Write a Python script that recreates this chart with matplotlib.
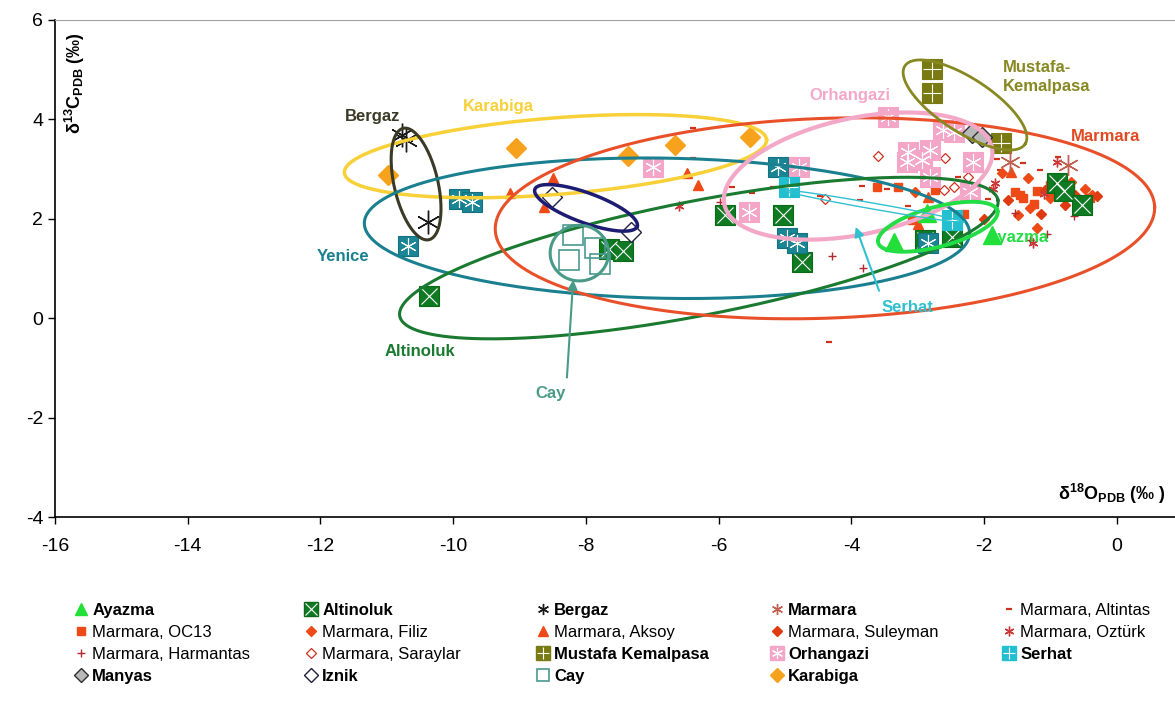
import numpy as np
import matplotlib
matplotlib.use("Agg")
import matplotlib.pyplot as plt
from matplotlib.lines import Line2D
from matplotlib import font_manager

# ---------------- data ----------------
ayazma_x = [-3.36, -2.86, -1.88]
ayazma_y = [1.53, 2.11, 1.67]

altinoluk_x = [-10.36, -7.65, -7.45, -5.90, -5.03, -4.74, -2.89, -2.48, -0.90, -0.80, -0.53]
altinoluk_y = [0.44, 1.39, 1.35, 2.07, 2.07, 1.13, 1.57, 1.63, 2.72, 2.55, 2.28]

bergaz_x = [-10.77, -10.71, -10.38]
bergaz_y = [3.69, 3.59, 1.93]

marmara_x = [-1.61, -0.74]
marmara_y = [3.14, 3.08]

altintas_x = [-6.39, -6.39, -5.80, -5.50, -5.18, -4.48, -3.84, -3.87, -3.46, -3.15, -4.34, -1.81, -1.76, -1.42, -1.16, -0.89, -2.40, -1.95]
altintas_y = [3.83, 3.22, 2.64, 2.52, 2.64, 2.45, 2.66, 2.38, 2.60, 2.26, -0.48, 3.20, 2.98, 3.12, 2.98, 3.24, 2.85, 2.40]

oc13_x = [-3.61, -3.30, -3.09, -2.74, -1.54, -1.46, -1.42, -1.01, -0.86, -0.71, -0.41, -1.20, -0.95, -0.60, -2.30, -1.25]
oc13_y = [2.64, 2.64, 1.97, 2.58, 2.54, 2.48, 2.42, 2.68, 2.58, 2.64, 2.42, 2.55, 2.45, 2.35, 2.10, 2.30]

filiz_x = [-1.34, -1.73, -1.31, -1.49, -1.20, -1.01, -0.38, -3.04, -0.70, -0.48]
filiz_y = [2.82, 2.92, 2.22, 2.07, 1.81, 2.42, 2.48, 2.54, 2.75, 2.60]

aksoy_x = [-9.14, -8.49, -8.64, -6.48, -6.31, -2.85, -1.60, -1.00, -3.00]
aksoy_y = [2.52, 2.82, 2.24, 2.92, 2.68, 2.44, 2.95, 2.60, 1.90]

suleyman_x = [-1.08, -0.93, -0.63, -0.78, -1.64, -2.00, -1.15, -0.30]
suleyman_y = [2.58, 2.82, 2.48, 2.28, 2.38, 2.00, 2.10, 2.45]

ozturk_x = [-6.60, -1.84, -0.90, -1.27, -1.87, -1.10]
ozturk_y = [2.26, 2.72, 3.14, 1.51, 2.60, 2.50]

harmantas_x = [-4.29, -3.83, -5.98, -1.54, -1.31, -1.05, -0.65]
harmantas_y = [1.25, 1.01, 2.34, 2.11, 1.57, 1.70, 2.05]

saraylar_x = [-3.60, -4.40, -2.59, -2.61, -2.45, -2.25]
saraylar_y = [3.26, 2.40, 3.22, 2.58, 2.64, 2.85]

mustafa_x = [-2.79, -2.79, -1.75]
mustafa_y = [5.02, 4.53, 3.52]

orhangazi_x = [-6.99, -5.54, -4.79, -3.45, -3.15, -2.82, -2.82, -2.17, -2.21, -2.62, -3.16, -2.94, -2.45]
orhangazi_y = [3.04, 2.13, 3.04, 4.05, 3.34, 3.38, 2.84, 3.14, 2.54, 3.79, 3.14, 3.18, 3.75]

serhat_x = [-4.94, -2.48]
serhat_y = [2.64, 1.97]

manyas_x = [-2.18, -2.03]
manyas_y = [3.73, 3.65]

iznik_x = [-8.51, -7.32]
iznik_y = [2.44, 1.73]

cay_x = [-8.19, -8.25, -7.86, -7.79]
cay_y = [1.67, 1.17, 1.41, 1.09]

karabiga_x = [-10.99, -9.05, -7.36, -6.66, -5.53]
karabiga_y = [2.88, 3.42, 3.26, 3.48, 3.65]

yenice_x = [-10.68, -9.92, -9.71, -5.11, -4.97, -4.82, -2.85]
yenice_y = [1.45, 2.40, 2.34, 3.04, 1.61, 1.51, 1.51]

# ellipses: name, centre x, centre y, semi-axis x (x units), semi-axis y (y units), angle (deg on screen)
ell_names = ["Karabiga", "Bergaz", "Yenice", "Altinoluk", "Marmara", "Iznik", "Cay", "Orhangazi", "Mustafa", "Ayazma", "Serhat"]
ell_cx = [-8.46, -10.56, -6.78, -6.30, -4.40, -8.00, -8.10, -3.90, -2.29, -2.70, -3.65]
ell_cy = [3.26, 2.70, 1.81, 1.21, 2.01, 2.22, 1.31, 2.86, 4.29, 1.84, 2.25]
ell_rx = [3.19, 0.33, 4.56, 4.59, 4.97, 0.82, 0.44, 2.06, 1.08, 0.93, 1.37]
ell_ry = [0.77, 1.15, 1.41, 1.15, 2.01, 0.30, 0.56, 1.17, 0.54, 0.40, 0.06]
ell_ang = [4.5, 13, -1, 11, 2, -20, 0, 12, -33, 15, -10]

# ---------------- fonts ----------------
def has_font(name):
    try:
        font_manager.findfont(name, fallback_to_default=False)
        return True
    except Exception:
        return False

narrow = "Liberation Sans Narrow" if has_font("Liberation Sans Narrow") else "Liberation Sans"
plt.rcParams['font.family'] = [narrow, 'DejaVu Sans']
plt.rcParams['mathtext.fontset'] = 'custom'
plt.rcParams['mathtext.rm'] = narrow
plt.rcParams['mathtext.bf'] = narrow + ':bold'
plt.rcParams['axes.unicode_minus'] = False

W, H = 1175, 706
fig = plt.figure(figsize=(W / 100, H / 100), dpi=100)
ax = fig.add_axes([55 / W, 1 - 517 / H, 1120 / W, 497 / H])
ax.set_xlim(-16, 0.874)
ax.set_ylim(-4, 6)
ax.set_xticks(np.arange(-16, 1, 2))
ax.set_yticks(np.arange(-4, 7, 2))
ax.tick_params(direction='out', length=5, width=1, labelsize=14, colors='black')
ax.tick_params(axis='x', pad=10)
ax.spines['right'].set_visible(False)
ax.spines['top'].set_color('#a0a0a0')
ax.spines['left'].set_linewidth(1.2)
ax.spines['bottom'].set_linewidth(1.2)

# ---------------- styles ----------------
C_ALT = '#0e7a22'
C_ORH = '#f4a6c8'
C_YEN = '#1a8595'
C_MUS = '#7a7a12'
C_SER = '#22bfd0'
RED = '#ee4a18'

def comp(xs, ys, color, sym, ms=15, sym_ms=12, z=3, edge=None):
    a, = ax.plot(xs, ys, ls='none', marker='s', ms=ms, mfc=color, mec=edge or color, mew=0.8, zorder=z)
    b, = ax.plot(xs, ys, ls='none', marker=sym, ms=sym_ms, mec='white', mfc='white', mew=0.8, zorder=z)
    return (a, b)

handles = {}
handles['Marmara, Altintas'], = ax.plot(altintas_x, altintas_y, ls='none', marker='_', ms=5, mew=1.6, color='#cc3318', zorder=2)
handles['Marmara, OC13'], = ax.plot(oc13_x, oc13_y, ls='none', marker='s', ms=6, color=RED, zorder=2)
handles['Marmara, Filiz'], = ax.plot(filiz_x, filiz_y, ls='none', marker='D', ms=5, color=RED, zorder=2)
handles['Marmara, Aksoy'], = ax.plot(aksoy_x, aksoy_y, ls='none', marker='^', ms=7, color=RED, zorder=2)
handles['Marmara, Suleyman'], = ax.plot(suleyman_x, suleyman_y, ls='none', marker='D', ms=5, color='#e03a10', zorder=2)
handles['Marmara, Oztürk'], = ax.plot(ozturk_x, ozturk_y, ls='none', marker=(6, 2, 0), ms=7, mew=1, color='#cc3838', zorder=2)
handles['Marmara, Harmantas'], = ax.plot(harmantas_x, harmantas_y, ls='none', marker='+', ms=6, mew=1, color='#b02a30', zorder=2)
handles['Marmara, Saraylar'], = ax.plot(saraylar_x, saraylar_y, ls='none', marker='D', ms=5, mfc='white', mec='#cc3322', mew=0.9, zorder=2)

handles['Altinoluk'] = comp(altinoluk_x, altinoluk_y, C_ALT, 'x', edge='#0a6a18')
yen = comp(yenice_x, yenice_y, C_YEN, (6, 2, 0), edge='#157080')
handles['Orhangazi'] = comp(orhangazi_x, orhangazi_y, C_ORH, (6, 2, 0), edge=C_ORH)
handles['Mustafa Kemalpasa'] = comp(mustafa_x, mustafa_y, C_MUS, '+', sym_ms=13)
handles['Serhat'] = comp(serhat_x, serhat_y, C_SER, '+', sym_ms=13)

handles['Ayazma'], = ax.plot(ayazma_x, ayazma_y, ls='none', marker='^', ms=13, color='#22e038', zorder=3)
handles['Bergaz'], = ax.plot(bergaz_x, bergaz_y, ls='none', marker=(6, 2, 0), ms=17, mew=1, color='#1a1a1a', zorder=3)
handles['Marmara'], = ax.plot(marmara_x, marmara_y, ls='none', marker=(6, 2, 0), ms=15, mew=1, color='#c06050', zorder=3)
handles['Manyas'], = ax.plot(manyas_x, manyas_y, ls='none', marker='D', ms=10, mfc='#b8b8b8', mec='#303030', mew=1, zorder=3)
handles['Iznik'], = ax.plot(iznik_x, iznik_y, ls='none', marker='D', ms=10, mfc='white', mec='#202040', mew=1, zorder=3)
handles['Cay'], = ax.plot(cay_x, cay_y, ls='none', marker='s', ms=15, mfc='none', mec='#4a9a90', mew=1.2, zorder=3)
handles['Karabiga'], = ax.plot(karabiga_x, karabiga_y, ls='none', marker='D', ms=10.5, color='#f7a21c', zorder=3)

# ---------------- ellipses ----------------
p0 = ax.transData.transform((0, 0))
sx = ax.transData.transform((1, 0))[0] - p0[0]
sy = ax.transData.transform((0, 1))[1] - p0[1]
ell_colors = {"Karabiga": '#f8d038', "Bergaz": '#3a3a26', "Yenice": '#1a8090', "Altinoluk": '#1a7a30',
              "Marmara": '#e8502a', "Iznik": '#1c1c72', "Cay": '#4a9a88', "Orhangazi": '#f4a8c8',
              "Mustafa": '#888822', "Ayazma": '#22dd44', "Serhat": '#30c0d0'}
ell_lw = {"Karabiga": 2.5, "Bergaz": 2.2, "Yenice": 2.2, "Altinoluk": 2.2, "Marmara": 2.2, "Iznik": 2.5,
          "Cay": 2.2, "Orhangazi": 3.0, "Mustafa": 2.0, "Ayazma": 2.8, "Serhat": 1.0}
t = np.linspace(0, 2 * np.pi, 300)
for n, cx, cy, rx, ry, ang in zip(ell_names, ell_cx, ell_cy, ell_rx, ell_ry, ell_ang):
    u = rx * sx * np.cos(t)
    v = ry * sy * np.sin(t)
    a = np.deg2rad(ang)
    up = u * np.cos(a) - v * np.sin(a)
    vp = u * np.sin(a) + v * np.cos(a)
    ax.plot(cx + up / sx, cy + vp / sy, color=ell_colors[n], lw=ell_lw[n], zorder=4)

# ---------------- group labels ----------------
lab_kw = dict(fontsize=12, fontweight='bold', ha='center', va='center', zorder=6)
ax.text(-11.22, 4.05, "Bergaz", color='#3a3a26', **lab_kw)
ax.text(-9.32, 4.25, "Karabiga", color='#f8d038', **lab_kw)
ax.text(-11.66, 1.25, "Yenice", color='#1a8090', **lab_kw)
ax.text(-10.50, -0.68, "Altinoluk", color='#1a7a30', **lab_kw)
ax.text(-8.54, -1.51, "Cay", color='#4a9a88', **lab_kw)
ax.text(-3.15, 0.22, "Serhat", color='#30c0d0', **lab_kw)
ax.text(-0.17, 3.65, "Marmara", color='#e04a22', **lab_kw)
ax.text(-4.02, 4.49, "Orhangazi", color='#f4a8c8', **lab_kw)
ax.text(-1.72, 4.85, "Mustafa-\nKemalpasa", color='#888822', fontsize=12, fontweight='bold',
        ha='left', va='center', linespacing=1.3, zorder=6)
ax.text(-1.49, 1.63, "Ayazma", color='#22dd44', **lab_kw)

ax.annotate("", xy=(-8.19, 0.83), xytext=(-8.29, -1.25),
            arrowprops=dict(arrowstyle='-|>', color='#4a9a88', lw=1.5, mutation_scale=14), zorder=6)
ax.annotate("", xy=(-3.95, 1.89), xytext=(-3.57, 0.50),
            arrowprops=dict(arrowstyle='-|>', color='#30c0d0', lw=1.5, mutation_scale=14), zorder=6)

# axis titles
ax.text(0.018, 0.975, r"$\mathbf{\delta^{13}C_{PDB}}$ (‰)", transform=ax.transAxes, rotation=90,
        ha='center', va='top', fontsize=13, fontweight='bold')
ax.text(0.992, 0.046, r"$\mathbf{\delta^{18}O_{PDB}}$ (‰ )", transform=ax.transAxes,
        ha='right', va='center', fontsize=13, fontweight='bold')

# ---------------- legend (5 columns) ----------------
cols = [["Ayazma", "Marmara, OC13", "Marmara, Harmantas", "Manyas"],
        ["Altinoluk", "Marmara, Filiz", "Marmara, Saraylar", "Iznik"],
        ["Bergaz", "Marmara, Aksoy", "Mustafa Kemalpasa", "Cay"],
        ["Marmara", "Marmara, Suleyman", "Orhangazi", "Karabiga"],
        ["Marmara, Altintas", "Marmara, Oztürk", "Serhat"]]
bold = {"Ayazma", "Altinoluk", "Bergaz", "Marmara", "Mustafa Kemalpasa", "Orhangazi", "Serhat",
        "Manyas", "Iznik", "Cay", "Karabiga"}
col_x = [74, 304, 536, 770, 1002]
leg_ms = {"Ayazma": 9, "Bergaz": 8, "Marmara": 8, "Manyas": 7, "Iznik": 7, "Cay": 9, "Karabiga": 7}

def leg_handle(name):
    h = handles[name]
    if isinstance(h, tuple):
        a, b = h
        ha_ = Line2D([], [], ls='none', marker='s', ms=10, mfc=a.get_mfc(), mec=a.get_mec())
        hb_ = Line2D([], [], ls='none', marker=b.get_marker(), ms=8, mec='white', mew=0.8)
        return (ha_, hb_)
    ms = leg_ms.get(name, h.get_markersize())
    return Line2D([], [], ls='none', marker=h.get_marker(), ms=ms, mfc=h.get_mfc(), mec=h.get_mec(),
                  mew=h.get_mew())

for x0, names in zip(col_x, cols):
    leg = fig.legend([leg_handle(n) for n in names], names, loc='upper left',
                     bbox_to_anchor=(x0 / W, 1 - 603 / H), frameon=False, fontsize=12,
                     handlelength=0.8, handletextpad=0.3, labelspacing=0.42, borderpad=0,
                     borderaxespad=0)
    for txt in leg.get_texts():
        if txt.get_text() in bold:
            txt.set_fontweight('bold')

fig.savefig("out.png", dpi=100)
